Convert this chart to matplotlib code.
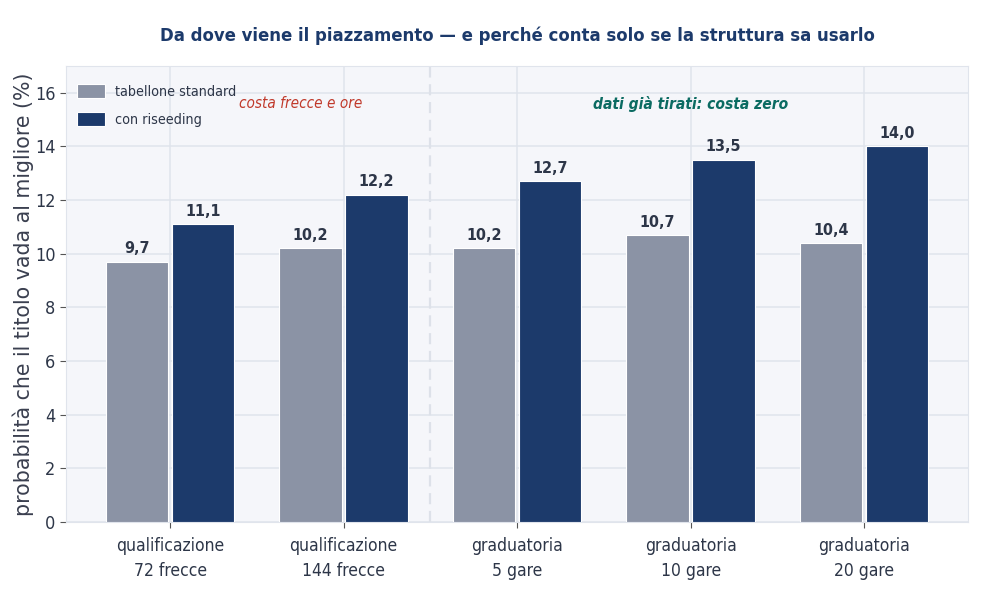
import numpy as np
import matplotlib
matplotlib.use('Agg')
import matplotlib.pyplot as plt

categories = ['qualificazione\n72 frecce', 'qualificazione\n144 frecce',
	'graduatoria\n5 gare', 'graduatoria\n10 gare', 'graduatoria\n20 gare']
standard = [9.7, 10.2, 10.2, 10.7, 10.4]
riseeding = [11.1, 12.2, 12.7, 13.5, 14.0]
series_names = ['tabellone standard', 'con riseeding']

NAVY = '#1c3a6b'
GREY = '#8b93a5'
TXT = '#2d3648'

plt.rcParams['font.family'] = ['DejaVu Sans']
plt.rcParams['font.stretch'] = 'condensed'

fig, ax = plt.subplots(figsize=(9.85, 6.05), dpi=100)
fig.subplots_adjust(left=0.067, right=0.983, top=0.891, bottom=0.137)
ax.set_facecolor('#f5f6fa')

x = np.arange(len(categories))
w = 0.36
b1 = ax.bar(x - 0.19, standard, w, color=GREY, edgecolor='white', linewidth=0.8,
	label=series_names[0], zorder=3)
b2 = ax.bar(x + 0.19, riseeding, w, color=NAVY, edgecolor='white', linewidth=0.8,
	label=series_names[1], zorder=3)

# etichette valore sopra le barre, con virgola decimale
for bars, vals in [(b1, standard), (b2, riseeding)]:
	for r, v in zip(bars, vals):
		ax.text(r.get_x() + r.get_width() / 2, v + 0.2, ('%.1f' % v).replace('.', ','),
			ha='center', va='bottom', fontsize=11.5, fontweight='bold', color=TXT)

ax.axvline(1.5, color='#dde1e9', linestyle=(0, (5, 3)), linewidth=1.6, zorder=2)

ax.text(0.75, 15.6, 'costa frecce e ore', color='#c0392b', fontsize=11,
	style='italic', ha='center', va='center')
ax.text(3.0, 15.6, 'dati già tirati: costa zero', color='#0b6b62', fontsize=11.2,
	style='italic', fontweight='bold', ha='center', va='center')

ax.set_xlim(-0.6, 4.6)
ax.set_ylim(0, 17)
ax.set_yticks(range(0, 17, 2))
ax.set_xticks(x)
ax.set_xticklabels(categories, fontsize=12.5, color=TXT, linespacing=1.5)
ax.tick_params(axis='y', labelsize=13, labelcolor=TXT, color='#555555', length=4)
ax.tick_params(axis='x', color='#555555', length=4, pad=7)
ax.grid(True, color='#e0e4ec', linewidth=1.1, zorder=0)
for s in ax.spines.values():
	s.set_color('#e0e4ec')

ax.set_ylabel('probabilità che il titolo vada al migliore (%)', fontsize=14.8,
	color='#3a3f4f', fontstretch='normal')
ax.yaxis.set_label_coords(-0.036, 0.5)
ax.set_title('Da dove viene il piazzamento — e perché conta solo se la struttura sa usarlo',
	fontsize=13.2, fontweight='bold', color=NAVY, pad=18)

ax.legend(loc='upper left', bbox_to_anchor=(0.0, 0.985), frameon=False, fontsize=10.3,
	labelcolor=TXT, handlelength=1.9, handleheight=1.1, handletextpad=0.7,
	labelspacing=0.9, borderaxespad=0.4)

fig.savefig('out.png', dpi=100, facecolor='white')
